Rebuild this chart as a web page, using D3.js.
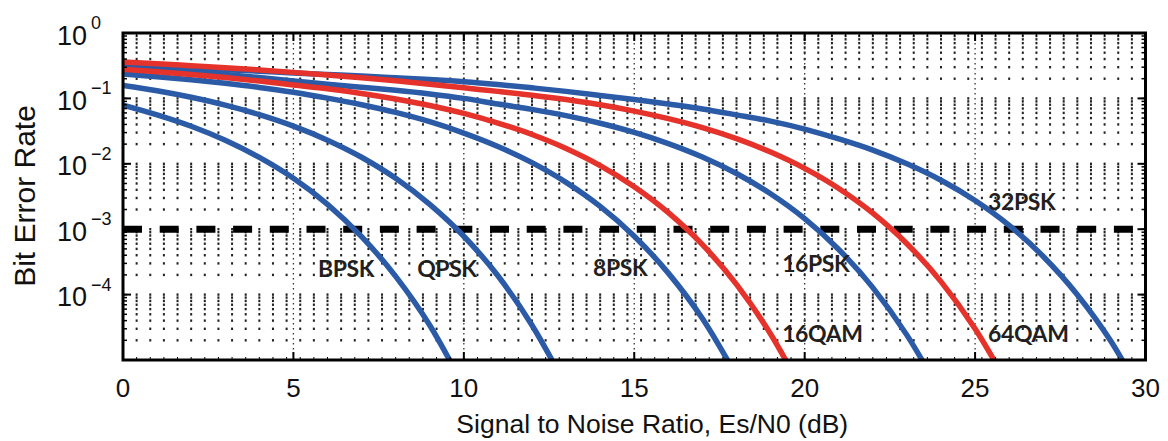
<!DOCTYPE html>
<html>
<head>
<meta charset="utf-8">
<script src="https://cdn.jsdelivr.net/npm/d3@7"></script>
<style>
  body { margin: 0; background: #fff; }
  text { font-family: "Liberation Sans", Arial, sans-serif; }
</style>
</head>
<body>
<svg id="chart" width="1168" height="441"></svg>
<script>
// bit error rate, one value per dB of Es/N0 starting at 0 dB
var bpsk  = [0.079, 0.056, 0.0375, 0.0229, 0.0125, 0.006, 0.0024, 0.00077, 0.00019, 3.4e-5, 3.9e-6];
var qpsk  = [0.158, 0.131, 0.104, 0.079, 0.0565, 0.0377, 0.023, 0.0126, 0.006, 0.0024, 0.00078, 0.000194, 3.4e-5, 4e-6];
var psk8  = [0.237, 0.215, 0.193, 0.17, 0.147, 0.124, 0.101, 0.08, 0.061, 0.044, 0.0295, 0.0184, 0.0104, 0.0052,
             0.00223, 0.00078, 0.000213, 4.3e-5, 5.7e-6];
var psk16 = [0.295, 0.275, 0.255, 0.232, 0.208, 0.185, 0.165, 0.148, 0.133, 0.117, 0.1, 0.082, 0.068, 0.0545, 0.0417,
             0.0302, 0.0204, 0.0127, 0.0071, 0.00348, 0.00145, 0.00049, 0.000128, 2.4e-5, 3.1e-6];
var psk32 = [0.33, 0.31, 0.29, 0.275, 0.26, 0.245, 0.232, 0.22, 0.207, 0.194, 0.18, 0.163, 0.145, 0.128, 0.111, 0.096,
             0.082, 0.069, 0.056, 0.045, 0.034, 0.024, 0.0162, 0.01, 0.0056, 0.00274, 0.00114, 0.000383, 0.0000996,
             1.88e-5, 2.3e-6];
var qam16 = [0.28, 0.255, 0.232, 0.208, 0.184, 0.16, 0.14, 0.119, 0.098, 0.078, 0.059, 0.042, 0.0281, 0.0172, 0.0094,
             0.00446, 0.00179, 0.00058, 0.000143, 2.5e-5, 2.9e-6];
var qam64 = [0.36, 0.34, 0.317, 0.295, 0.272, 0.25, 0.228, 0.207, 0.186, 0.165, 0.145, 0.128, 0.112, 0.096, 0.08, 0.064,
             0.049, 0.0357, 0.0242, 0.0151, 0.0085, 0.0042, 0.00176, 0.0006, 0.000158, 3.0e-5, 3.9e-6];

var xTicks = [0, 5, 10, 15, 20, 25, 30];
var yTickExp = [0, -1, -2, -3, -4];
var target = 1e-3; // dashed reference line

var blue = "#2b5ba7", red = "#e5322a";
var series = [
  { name: "BPSK",  ber: bpsk,  color: blue },
  { name: "QPSK",  ber: qpsk,  color: blue },
  { name: "8PSK",  ber: psk8,  color: blue },
  { name: "16PSK", ber: psk16, color: blue },
  { name: "32PSK", ber: psk32, color: blue },
  { name: "16QAM", ber: qam16, color: red },
  { name: "64QAM", ber: qam64, color: red }
];
// where each name sits, in dB / BER
var labelAt = {
  "BPSK": [5.72, 1.86e-4], "QPSK": [8.63, 1.86e-4], "8PSK": [13.79, 1.92e-4],
  "16PSK": [19.34, 2.2e-4], "32PSK": [25.38, 1.97e-3],
  "16QAM": [19.34, 1.9e-5], "64QAM": [25.38, 1.9e-5]
};

var svg = d3.select("#chart");
var pLeft = 123, pRight = 1145.5, pTop = 33, pBottom = 360;

var x = d3.scaleLinear().domain([0, 30]).range([pLeft, pRight]);
var y = d3.scaleLog().domain([1e-5, 1]).range([pBottom, pTop]);

svg.append("clipPath").attr("id", "plotclip")
  .append("rect").attr("x", pLeft).attr("y", pTop)
  .attr("width", pRight - pLeft).attr("height", pBottom - pTop);

// minor grid: dots where the dotted lines meet
var gx = d3.range(1, 75).map(function (k) { return k * 0.4; });
var gy = [];
for (var e = -5; e <= -1; e++) {
  for (var m = 1; m <= 9; m++) {
    if (e == -5 && m == 1) continue;
    gy.push(m * Math.pow(10, e));
  }
}
var grid = svg.append("g").attr("fill", "#222");
gx.forEach(function (gv) {
  grid.selectAll(null).data(gy).enter().append("rect")
    .attr("x", x(gv) - 1).attr("y", function (d) { return y(d) - 1.2; })
    .attr("width", 2).attr("height", 2.4);
});

// major vertical grid
svg.append("g").selectAll("line").data(xTicks.slice(1, -1)).enter().append("line")
  .attr("x1", function (d) { return x(d); }).attr("x2", function (d) { return x(d); })
  .attr("y1", pTop).attr("y2", pBottom)
  .attr("stroke", "#333").attr("stroke-width", 1.3).attr("stroke-dasharray", "1.5,3.5");

// dashed 1e-3 line
svg.append("line")
  .attr("x1", pLeft).attr("x2", pRight).attr("y1", y(target)).attr("y2", y(target))
  .attr("stroke", "#000").attr("stroke-width", 7).attr("stroke-dasharray", "19,17.7");

// curves
var line = d3.line()
  .x(function (d, i) { return x(i); })
  .y(function (d) { return y(d); })
  .curve(d3.curveMonotoneX);

var curves = svg.append("g").attr("clip-path", "url(#plotclip)");
series.filter(function (s) { return s.color == blue; })
  .concat(series.filter(function (s) { return s.color == red; }))
  .forEach(function (s) {
    curves.append("path").attr("d", line(s.ber))
      .attr("fill", "none").attr("stroke", s.color)
      .attr("stroke-width", 5.5).attr("stroke-linecap", "butt");
  });

// curve names
series.forEach(function (s) {
  var p = labelAt[s.name];
  svg.append("text").attr("x", x(p[0])).attr("y", y(p[1]))
    .style("font-family", "Lato, 'Open Sans', sans-serif")
    .style("font-weight", "bold").style("font-size", "23px")
    .style("letter-spacing", "-0.4px")
    .attr("fill", "#231f20").text(s.name);
});

// frame and ticks
var ax = svg.append("g").attr("stroke", "#000");
ax.append("rect").attr("x", pLeft).attr("y", pTop)
  .attr("width", pRight - pLeft).attr("height", pBottom - pTop)
  .attr("fill", "none").attr("stroke-width", 3);

xTicks.forEach(function (t) {
  ax.append("line").attr("x1", x(t)).attr("x2", x(t)).attr("y1", pBottom).attr("y2", pBottom - 8).attr("stroke-width", 2);
  ax.append("line").attr("x1", x(t)).attr("x2", x(t)).attr("y1", pTop).attr("y2", pTop + 8).attr("stroke-width", 2);
});
gx.forEach(function (t) {
  ax.append("line").attr("x1", x(t)).attr("x2", x(t)).attr("y1", pBottom).attr("y2", pBottom - 3).attr("stroke-width", 1);
  ax.append("line").attr("x1", x(t)).attr("x2", x(t)).attr("y1", pTop).attr("y2", pTop + 3).attr("stroke-width", 1);
});
yTickExp.forEach(function (ex) {
  var v = Math.pow(10, ex);
  ax.append("line").attr("x1", pLeft).attr("x2", pLeft + 8).attr("y1", y(v)).attr("y2", y(v)).attr("stroke-width", 2);
  ax.append("line").attr("x1", pRight).attr("x2", pRight - 8).attr("y1", y(v)).attr("y2", y(v)).attr("stroke-width", 2);
});
gy.forEach(function (v) {
  ax.append("line").attr("x1", pLeft).attr("x2", pLeft + 4).attr("y1", y(v)).attr("y2", y(v)).attr("stroke-width", 1.5);
  ax.append("line").attr("x1", pRight).attr("x2", pRight - 4).attr("y1", y(v)).attr("y2", y(v)).attr("stroke-width", 1.5);
});

// tick labels
svg.append("g").selectAll("text").data(xTicks).enter().append("text")
  .attr("x", function (d) { return x(d); }).attr("y", 397)
  .attr("text-anchor", "middle").style("font-size", "26px").attr("fill", "#111")
  .text(function (d) { return d; });

yTickExp.forEach(function (ex) {
  var ty = y(Math.pow(10, ex));
  svg.append("text").attr("x", 57).attr("y", ty + 11.5)
    .style("font-size", "27px").attr("fill", "#111").text("10");
  svg.append("text").attr("x", 91).attr("y", ty - 4)
    .style("font-size", "18px").attr("fill", "#111")
    .text(ex == 0 ? "0" : "\u2212" + (-ex));
});

// axis titles
svg.append("text").attr("x", (pLeft + pRight) / 2 + 18).attr("y", 433)
  .attr("text-anchor", "middle").style("font-size", "26.5px").attr("fill", "#111")
  .text("Signal to Noise Ratio, Es/N0 (dB)");
svg.append("text").attr("transform", "translate(35,196) rotate(-90)")
  .attr("text-anchor", "middle").style("font-size", "30px").attr("fill", "#111")
  .text("Bit Error Rate");
</script>
</body>
</html>
